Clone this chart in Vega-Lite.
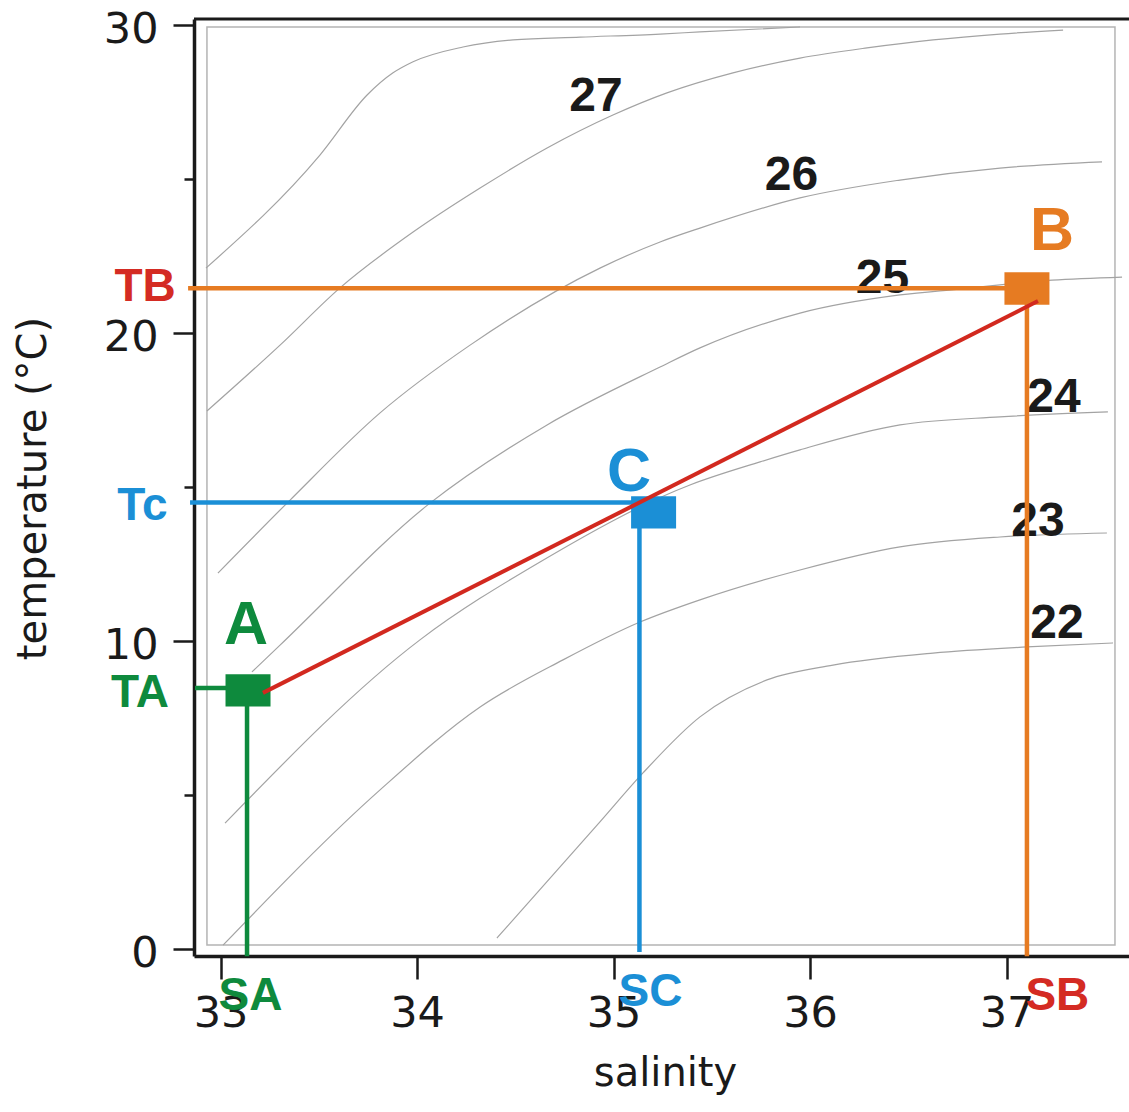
{
  "$schema": "https://vega.github.io/schema/vega-lite/v6.json",
  "width": 935,
  "height": 937,
  "autosize": {"type": "none"},
  "padding": {"left": 194, "top": 19, "right": 0, "bottom": 156},
  "background": "#ffffff",
  "config": {"view": {"stroke": null}},
  "datasets": {
    "box": [{"S": 32.931, "S2": 37.552, "T": 0.114, "T2": 29.92}],
    "frame": [{"S": 32.8651, "S2": 37.6234, "T": 30.1786}],
    "contours": [
      {"c": "28", "S": 32.926, "T": 22.09}, {"c": "28", "S": 33.506, "T": 25.76}, {"c": "28", "S": 33.746, "T": 27.71}, {"c": "28", "S": 33.878, "T": 28.43}, {"c": "28", "S": 33.98, "T": 28.79}, {"c": "28", "S": 34.234, "T": 29.27}, {"c": "28", "S": 34.489, "T": 29.5}, {"c": "28", "S": 34.83, "T": 29.59}, {"c": "28", "S": 35.237, "T": 29.69}, {"c": "28", "S": 35.44, "T": 29.76}, {"c": "28", "S": 35.949, "T": 29.92},
      {"c": "27", "S": 32.931, "T": 17.45}, {"c": "27", "S": 33.303, "T": 19.59}, {"c": "27", "S": 33.608, "T": 21.45}, {"c": "27", "S": 33.98, "T": 23.26}, {"c": "27", "S": 34.321, "T": 24.69}, {"c": "27", "S": 34.662, "T": 25.99}, {"c": "27", "S": 34.997, "T": 27.06}, {"c": "27", "S": 35.272, "T": 27.78}, {"c": "27", "S": 35.608, "T": 28.43}, {"c": "27", "S": 35.949, "T": 28.91}, {"c": "27", "S": 36.29, "T": 29.24}, {"c": "27", "S": 36.626, "T": 29.5}, {"c": "27", "S": 36.967, "T": 29.69}, {"c": "27", "S": 37.288, "T": 29.82},
      {"c": "26", "S": 32.987, "T": 12.19}, {"c": "26", "S": 33.354, "T": 14.56}, {"c": "26", "S": 33.812, "T": 17.39}, {"c": "26", "S": 34.27, "T": 19.59}, {"c": "26", "S": 34.931, "T": 22.09}, {"c": "26", "S": 35.237, "T": 22.94}, {"c": "26", "S": 35.44, "T": 23.39}, {"c": "26", "S": 35.949, "T": 24.37}, {"c": "26", "S": 36.458, "T": 24.95}, {"c": "26", "S": 36.967, "T": 25.34}, {"c": "26", "S": 37.486, "T": 25.54},
      {"c": "25", "S": 33.16, "T": 8.98}, {"c": "25", "S": 33.303, "T": 9.85}, {"c": "25", "S": 34.066, "T": 14.46}, {"c": "25", "S": 34.662, "T": 17.0}, {"c": "25", "S": 35.237, "T": 18.88}, {"c": "25", "S": 35.44, "T": 19.5}, {"c": "25", "S": 35.949, "T": 20.63}, {"c": "25", "S": 36.458, "T": 21.22}, {"c": "25", "S": 36.763, "T": 21.41}, {"c": "25", "S": 37.232, "T": 21.7}, {"c": "25", "S": 37.588, "T": 21.8},
      {"c": "24", "S": 33.023, "T": 4.07}, {"c": "24", "S": 34.015, "T": 10.02}, {"c": "24", "S": 34.626, "T": 12.55}, {"c": "24", "S": 35.389, "T": 15.05}, {"c": "24", "S": 35.746, "T": 15.8}, {"c": "24", "S": 35.949, "T": 16.19}, {"c": "24", "S": 36.458, "T": 17.0}, {"c": "24", "S": 36.967, "T": 17.26}, {"c": "24", "S": 37.516, "T": 17.42},
      {"c": "23", "S": 33.013, "T": 0.11}, {"c": "23", "S": 33.812, "T": 5.15}, {"c": "23", "S": 34.321, "T": 7.84}, {"c": "23", "S": 34.743, "T": 9.37}, {"c": "23", "S": 35.135, "T": 10.6}, {"c": "23", "S": 35.44, "T": 11.32}, {"c": "23", "S": 35.949, "T": 12.29}, {"c": "23", "S": 36.458, "T": 13.04}, {"c": "23", "S": 36.967, "T": 13.36}, {"c": "23", "S": 37.511, "T": 13.49},
      {"c": "22", "S": 34.407, "T": 0.34}, {"c": "22", "S": 34.931, "T": 4.11}, {"c": "22", "S": 35.15, "T": 5.7}, {"c": "22", "S": 35.44, "T": 7.52}, {"c": "22", "S": 35.781, "T": 8.72}, {"c": "22", "S": 36.117, "T": 9.2}, {"c": "22", "S": 36.626, "T": 9.59}, {"c": "22", "S": 37.104, "T": 9.79}, {"c": "22", "S": 37.542, "T": 9.92}
    ],
    "clabels": [
      {"text": "27", "S": 34.911, "T": 27.73},
      {"text": "26", "S": 35.906, "T": 25.18},
      {"text": "25", "S": 36.369, "T": 21.85},
      {"text": "24", "S": 37.242, "T": 17.97},
      {"text": "23", "S": 37.16, "T": 13.96},
      {"text": "22", "S": 37.257, "T": 10.62}
    ],
    "guides": [
      {"g": "TB", "k": "B", "S": 32.835, "S2": 37.0, "T": 21.44, "T2": 21.44},
      {"g": "SB", "k": "B", "S": 37.104, "S2": 37.104, "T": 21.44, "T2": -0.25},
      {"g": "Tc", "k": "C", "S": 32.845, "S2": 35.13, "T": 14.48, "T2": 14.48},
      {"g": "SC", "k": "C", "S": 35.132, "S2": 35.132, "T": 14.48, "T2": -0.11},
      {"g": "TA", "k": "A", "S": 32.87, "S2": 33.14, "T": 8.46, "T2": 8.46},
      {"g": "SA", "k": "A", "S": 33.135, "S2": 33.135, "T": 8.39, "T2": -0.25}
    ],
    "pts": [
      {"p": "A", "k": "A", "S": 33.14, "T": 8.38},
      {"p": "C", "k": "C", "S": 35.204, "T": 14.16},
      {"p": "B", "k": "B", "S": 37.104, "T": 21.43}
    ],
    "mix": [{"S": 33.216, "T": 8.3, "S2": 37.16, "T2": 21.02}],
    "big": [
      {"text": "A", "k": "A", "S": 33.13, "T": 10.58},
      {"text": "C", "k": "C", "S": 35.079, "T": 15.54},
      {"text": "B", "k": "B", "S": 37.232, "T": 23.38}
    ],
    "small": [
      {"text": "TB", "k": "R", "S": 32.616, "T": 21.59},
      {"text": "Tc", "k": "C", "S": 32.603, "T": 14.48},
      {"text": "TA", "k": "A", "S": 32.59, "T": 8.39},
      {"text": "SA", "k": "A", "S": 33.153, "T": -1.461},
      {"text": "SC", "k": "C", "S": 35.188, "T": -1.331},
      {"text": "SB", "k": "R", "S": 37.259, "T": -1.429}
    ]
  },
  "encoding": {
    "x": {
      "field": "S",
      "type": "quantitative",
      "title": "salinity",
      "scale": {"domain": [32.8651, 37.6234], "nice": false, "zero": false},
      "axis": {
        "values": [33, 33.5, 34, 34.5, 35, 35.5, 36, 36.5, 37, 37.5],
        "format": "d",
        "labelExpr": "datum.value % 1 === 0 ? datum.label : ''",
        "tickSize": {"condition": {"test": "datum.value % 1 !== 0", "value": 11}, "value": 23},
        "tickWidth": 2.5,
        "tickColor": "#1a1a1a",
        "domainColor": "#1a1a1a",
        "domainWidth": 3.5,
        "grid": false,
        "labelFont": "DejaVu Sans",
        "labelFontSize": 43,
        "labelColor": "#1a1a1a",
        "labelPadding": 13,
        "labelFlush": false,
        "labelOverlap": false,
        "titleFont": "DejaVu Sans",
        "titleFontSize": 40,
        "titleFontWeight": "normal",
        "titleColor": "#1a1a1a",
        "titleX": 471,
        "titleY": 129,
        "titleAlign": "center",
        "titleBaseline": "alphabetic"
      }
    },
    "y": {
      "field": "T",
      "type": "quantitative",
      "title": "temperature (°C)",
      "scale": {"domain": [-0.2435, 30.1786], "nice": false, "zero": false},
      "axis": {
        "values": [0, 5, 10, 15, 20, 25, 30],
        "format": "d",
        "labelExpr": "datum.value % 10 === 0 ? datum.label : ''",
        "tickSize": {"condition": {"test": "datum.value % 10 !== 0", "value": 10}, "value": 21},
        "tickWidth": 2.5,
        "tickColor": "#1a1a1a",
        "domainColor": "#1a1a1a",
        "domainWidth": 3.5,
        "grid": false,
        "labelFont": "DejaVu Sans",
        "labelFontSize": 43,
        "labelColor": "#1a1a1a",
        "labelPadding": 15,
        "labelOffset": 5,
        "labelFlush": false,
        "labelOverlap": false,
        "titleFont": "DejaVu Sans",
        "titleFontSize": 40,
        "titleFontWeight": "normal",
        "titleColor": "#1a1a1a",
        "titleX": -141,
        "titleY": 469,
        "titleAngle": 270,
        "titleAlign": "center",
        "titleBaseline": "bottom"
      }
    }
  },
  "layer": [
    {
      "data": {"name": "box"},
      "mark": {"type": "rect", "filled": false, "stroke": "#b4b4b4", "strokeWidth": 1.5},
      "encoding": {"x2": {"field": "S2"}, "y2": {"field": "T2"}}
    },
    {
      "data": {"name": "frame"},
      "mark": {"type": "rule", "stroke": "#1a1a1a", "strokeWidth": 3},
      "encoding": {"x2": {"field": "S2"}}
    },
    {
      "data": {"name": "contours"},
      "mark": {"type": "line", "stroke": "#a3a3a3", "strokeWidth": 1.2, "interpolate": "monotone"},
      "encoding": {"detail": {"field": "c"}, "order": {"field": "S", "type": "quantitative"}}
    },
    {
      "data": {"name": "clabels"},
      "mark": {"type": "text", "font": "Liberation Sans", "fontWeight": "bold", "fontSize": 48, "fill": "#1a1a1a", "align": "center", "baseline": "middle", "dy": 3},
      "encoding": {"text": {"field": "text"}}
    },
    {
      "data": {"name": "guides"},
      "mark": {"type": "rule", "strokeWidth": 4.5},
      "encoding": {
        "x2": {"field": "S2"},
        "y2": {"field": "T2"},
        "color": {"field": "k", "type": "nominal", "legend": null, "scale": {"domain": ["A", "B", "C", "R"], "range": ["#0e8a3d", "#e67b22", "#1b8fd6", "#d42b23"]}}
      }
    },
    {
      "data": {"name": "pts"},
      "mark": {"type": "point", "shape": "M-1,-0.72L1,-0.72L1,0.72L-1,0.72Z", "size": 2025, "filled": true, "opacity": 1, "strokeWidth": 0},
      "encoding": {
        "color": {"field": "k", "type": "nominal", "legend": null, "scale": {"domain": ["A", "B", "C", "R"], "range": ["#0e8a3d", "#e67b22", "#1b8fd6", "#d42b23"]}}
      }
    },
    {
      "data": {"name": "mix"},
      "mark": {"type": "rule", "stroke": "#d2291f", "strokeWidth": 4},
      "encoding": {"x2": {"field": "S2"}, "y2": {"field": "T2"}}
    },
    {
      "data": {"name": "big"},
      "mark": {"type": "text", "font": "Liberation Sans", "fontWeight": "bold", "fontSize": 61, "align": "center", "baseline": "middle", "dy": 3.5},
      "encoding": {
        "text": {"field": "text"},
        "color": {"field": "k", "type": "nominal", "legend": null, "scale": {"domain": ["A", "B", "C", "R"], "range": ["#0e8a3d", "#e67b22", "#1b8fd6", "#d42b23"]}}
      }
    },
    {
      "data": {"name": "small"},
      "mark": {"type": "text", "font": "Liberation Sans", "fontWeight": "bold", "fontSize": 46, "align": "center", "baseline": "middle", "dy": 3},
      "encoding": {
        "text": {"field": "text"},
        "color": {"field": "k", "type": "nominal", "legend": null, "scale": {"domain": ["A", "B", "C", "R"], "range": ["#0e8a3d", "#e67b22", "#1b8fd6", "#d42b23"]}}
      }
    }
  ]
}
